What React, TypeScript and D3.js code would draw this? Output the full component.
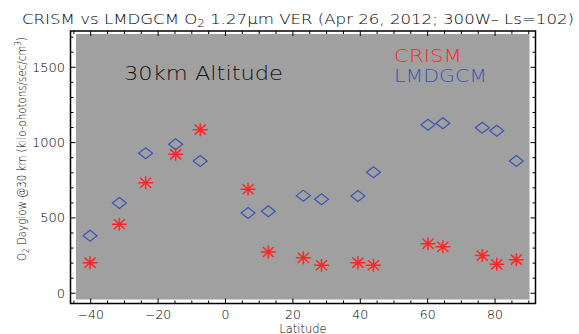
import React from "react";
import * as d3 from "d3";

// latitude of each CRISM/LMDGCM sample (deg)
const latitudes = [-40.2, -31.5, -23.7, -14.8, -7.5, 6.7, 12.7, 23.1, 28.5, 39.3, 43.9, 60.1, 64.5, 76.2, 80.5, 86.3];
const crism = [203, 458, 734, 922, 1086, 690, 274, 236, 186, 203, 186, 329, 309, 250, 192, 223];
const lmdgcm = [382, 599, 929, 989, 878, 533, 544, 648, 624, 646, 803, 1119, 1128, 1099, 1079, 878];

const xTicks = [-40, -20, 0, 20, 40, 60, 80];
const yTicks = [0, 500, 1000, 1500];

const W = 579;
const H = 334;
const box = { left: 70.5, right: 535.5, top: 31, bottom: 303.5 };
const RED = "#ff2626";
const BLUE = "#3a55b4";
const FONT = "'DejaVu Sans', sans-serif";

const App = () => {
  const x = d3.scaleLinear().domain([-46, 92]).range([box.left, box.right]);
  const y = d3.scaleLinear().domain([-68, 1741]).range([box.bottom, box.top]);

  const xMinor = d3.range(-45, 91, 5).filter(v => !xTicks.includes(v));
  const yMinor = d3.range(0, 1701, 100).filter(v => !yTicks.includes(v));

  const diamond = (cx, cy) =>
    `M${cx - 7},${cy} L${cx},${cy - 5.5} L${cx + 7},${cy} L${cx},${cy + 5.5} Z`;

  const asterisk = (cx, cy) => {
    const rx = 7.5, ry = 6.5, dx = 5.5, dy = 5;
    return `M${cx - rx},${cy} L${cx + rx},${cy} M${cx},${cy - ry} L${cx},${cy + ry} ` +
      `M${cx - dx},${cy - dy} L${cx + dx},${cy + dy} M${cx - dx},${cy + dy} L${cx + dx},${cy - dy}`;
  };

  return (
    <svg width={W} height={H} style={{ position: "absolute", left: 0, top: 0, background: "#fff" }}
      fontFamily={FONT} fontWeight={200}>
      <rect x={76} y={34} width={529.5 - 76} height={299.5 - 34} fill="#a0a0a0" />

      {/* frame */}
      <rect x={box.left} y={box.top} width={box.right - box.left} height={box.bottom - box.top}
        fill="none" stroke="#000" strokeWidth={1.5} />

      {/* x ticks, bottom and top */}
      {xTicks.map(v => (
        <g key={"xt" + v}>
          <line x1={x(v)} x2={x(v)} y1={box.bottom} y2={box.bottom - 5} stroke="#000" />
          <line x1={x(v)} x2={x(v)} y1={box.top} y2={box.top + 5} stroke="#000" />
          <text x={x(v)} y={319} fontSize={12.5} textAnchor="middle" fill="#000">
            {v < 0 ? "\u2212" + Math.abs(v) : v}
          </text>
        </g>
      ))}
      {xMinor.map(v => (
        <g key={"xm" + v}>
          <line x1={x(v)} x2={x(v)} y1={box.bottom} y2={box.bottom - 3} stroke="#000" />
          <line x1={x(v)} x2={x(v)} y1={box.top} y2={box.top + 3} stroke="#000" />
        </g>
      ))}

      {/* y ticks, left and right */}
      {yTicks.map(v => (
        <g key={"yt" + v}>
          <line x1={box.left} x2={box.left + 5} y1={y(v)} y2={y(v)} stroke="#000" />
          <line x1={box.right} x2={box.right - 5} y1={y(v)} y2={y(v)} stroke="#000" />
          <text x={65} y={y(v) + 4.5} fontSize={13} textAnchor="end" fill="#000">{v}</text>
        </g>
      ))}
      {yMinor.map(v => (
        <g key={"ym" + v}>
          <line x1={box.left} x2={box.left + 3} y1={y(v)} y2={y(v)} stroke="#000" />
          <line x1={box.right} x2={box.right - 3} y1={y(v)} y2={y(v)} stroke="#000" />
        </g>
      ))}

      {/* LMDGCM diamonds */}
      {lmdgcm.map((v, i) => (
        <path key={"d" + i} d={diamond(x(latitudes[i]), y(v))} fill="none" stroke={BLUE} strokeWidth={1.2} />
      ))}
      {/* CRISM asterisks */}
      {crism.map((v, i) => (
        <path key={"a" + i} d={asterisk(x(latitudes[i]), y(v))} fill="none" stroke={RED} strokeWidth={1.5} />
      ))}

      {/* titles */}
      <text x={22} y={24} fontSize={14} textLength={552} lengthAdjust="spacingAndGlyphs" fill="#000">
        CRISM vs LMDGCM O<tspan fontSize={10} dy={3}>2</tspan><tspan dy={-3}> 1.27μm VER (Apr 26, 2012; 300W– Ls=102)</tspan>
      </text>
      <text x={124} y={80} fontSize={19} textLength={159} lengthAdjust="spacingAndGlyphs" fill="#111">
        30km Altitude
      </text>
      <text x={394} y={62} fontSize={18} textLength={68} lengthAdjust="spacingAndGlyphs" fill={RED}>CRISM</text>
      <text x={394} y={81.5} fontSize={18} textLength={93} lengthAdjust="spacingAndGlyphs" fill={BLUE}>LMDGCM</text>

      <text x={303} y={332.5} fontSize={11.5} textAnchor="middle" fill="#000">Latitude</text>
      <text transform="translate(26,261) rotate(-90)" fontSize={12.5} textLength={224}
        lengthAdjust="spacingAndGlyphs" fill="#000">
        O<tspan fontSize={9} dy={3}>2</tspan><tspan dy={-3}> Dayglow @30 km (kilo-photons/sec/cm</tspan>
        <tspan fontSize={9} dy={-5}>3</tspan><tspan dy={5}>)</tspan>
      </text>
    </svg>
  );
};

export default App;
